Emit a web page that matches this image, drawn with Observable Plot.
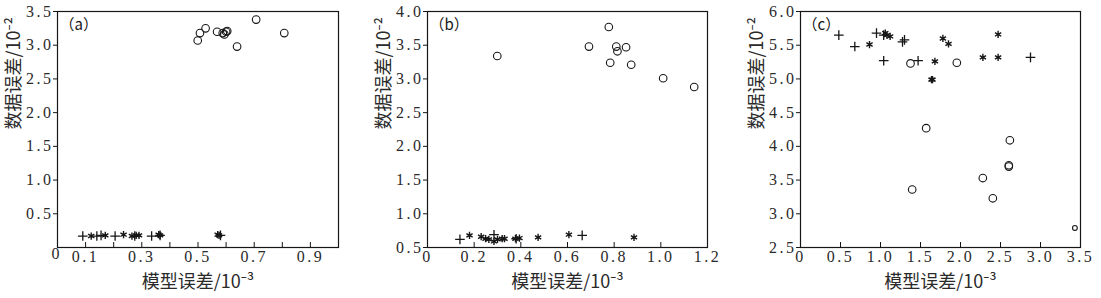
<!DOCTYPE html>
<html>
<head>
<meta charset="utf-8">
<script src="https://cdn.jsdelivr.net/npm/d3@7"></script>
<script src="https://cdn.jsdelivr.net/npm/@observablehq/plot@0.6"></script>
<style>
  html, body { margin: 0; padding: 0; background: #fff; }
  #wrap { position: relative; width: 1101px; height: 298px; overflow: hidden; }
  .panel { position: absolute; top: 0; }
  .panel svg { display: block; }
  .panel svg text.num {
    font-family: 'Liberation Serif', 'DejaVu Serif', serif !important;
    font-size: 16px !important;
    letter-spacing: 2.5px !important;
    fill: #2a2a2a !important;
  }
</style>
</head>
<body>
<div id="wrap"></div>
<script>
// ---------- data ----------
const xLabel = "模型误差/10⁻³";
const yLabel = "数据误差/10⁻²";
const panelTags = ["（a）", "（b）", "（c）"];

// panel (a)
const aCircleX = [0.499, 0.507, 0.527, 0.568, 0.588, 0.594, 0.600, 0.604, 0.639, 0.707, 0.807];
const aCircleY = [3.07, 3.18, 3.25, 3.20, 3.18, 3.16, 3.20, 3.21, 2.98, 3.38, 3.18];
const aPlusX = [0.09, 0.14, 0.155, 0.205, 0.275, 0.335, 0.365, 0.58];
const aPlusY = [0.17, 0.17, 0.18, 0.17, 0.17, 0.17, 0.18, 0.18];
const aStarX = [0.12, 0.17, 0.235, 0.265, 0.28, 0.29, 0.36, 0.365, 0.57, 0.575];
const aStarY = [0.17, 0.18, 0.19, 0.17, 0.18, 0.18, 0.19, 0.18, 0.19, 0.18];
const aXTicks = [0.1, 0.2, 0.3, 0.4, 0.5, 0.6, 0.7, 0.8, 0.9];
const aXTickLabels = [0.1, 0.3, 0.5, 0.7, 0.9];
const aYTicks = [0.5, 1.0, 1.5, 2.0, 2.5, 3.0, 3.5];

// panel (b)
const bCircleX = [0.299, 0.692, 0.777, 0.783, 0.809, 0.814, 0.851, 0.873, 1.01, 1.143];
const bCircleY = [3.34, 3.48, 3.77, 3.24, 3.48, 3.41, 3.47, 3.21, 3.01, 2.88];
const bPlusX = [0.139, 0.285, 0.38, 0.663];
const bPlusY = [0.62, 0.69, 0.63, 0.68];
const bStarX = [0.18, 0.23, 0.249, 0.263, 0.285, 0.30, 0.32, 0.33, 0.377, 0.394, 0.474, 0.606, 0.885];
const bStarY = [0.68, 0.66, 0.63, 0.62, 0.59, 0.62, 0.63, 0.63, 0.63, 0.64, 0.65, 0.69, 0.65];
const bXTicks = [0.2, 0.4, 0.6, 0.8, 1.0];
const bXTickLabels = [0, 0.2, 0.4, 0.6, 0.8, 1.0, 1.2];
const bYTicks = [0.5, 1.0, 1.5, 2.0, 2.5, 3.0, 3.5, 4.0];

// panel (c)
const cCircleX = [1.375, 1.396, 1.571, 1.954, 2.279, 2.404, 2.604, 2.604, 2.617];
const cCircleY = [5.23, 3.36, 4.27, 5.24, 3.53, 3.23, 3.72, 3.70, 4.09];
const cSmallCircleX = [3.43];
const cSmallCircleY = [2.79];
const cPlusX = [0.479, 0.679, 0.95, 1.04, 1.04, 1.275, 1.30, 1.47, 2.875];
const cPlusY = [5.65, 5.48, 5.68, 5.65, 5.27, 5.55, 5.58, 5.27, 5.32];
const cStarX = [0.8625, 1.06, 1.08, 1.12, 1.6375, 1.65, 1.68, 1.78, 1.85, 2.28, 2.47, 2.47];
const cStarY = [5.51, 5.68, 5.65, 5.63, 4.99, 4.99, 5.26, 5.60, 5.52, 5.32, 5.66, 5.32];
const cXTicks = [0.5, 1.0, 1.5, 2.0, 2.5, 3.0];
const cXTickLabels = [0, 0.5, 1.0, 1.5, 2.0, 2.5, 3.0, 3.5];
const cYTicks = [2.5, 3.0, 3.5, 4.0, 4.5, 5.0, 5.5, 6.0];

// ---------- helpers ----------
const zip = (xs, ys) => xs.map((x, i) => ({x, y: ys[i]}));
const fmt = d => d === 0 ? "0" : d.toFixed(1);
const INK = "#161616";
const numFont = "'Liberation Serif', 'DejaVu Serif', serif";
const cjkFont = "'Noto Sans CJK SC', 'Noto Sans', sans-serif";

function panel(cfg) {
  const {left, width, marginLeft, marginRight, xDomain, yDomain, xTicks, xTickLabels, yTicks,
         circles, smallCircles, pluses, stars, tag, cornerZero} = cfg;
  const marks = [
    Plot.frame({stroke: INK, strokeWidth: 1.2}),
    // inward x ticks
    Plot.tickX(xTicks, {x: d => d, stroke: INK, strokeWidth: 1, insetTop: 231}),
    Plot.axisX(xTickLabels, {tickSize: 0, tickPadding: 3, tickFormat: fmt, label: null, fill: INK}),
    Plot.axisY(yTicks, {tickSize: 4, tickPadding: 0, tickFormat: fmt, label: null, fill: INK, stroke: INK}),
    Plot.dot(circles, {x: "x", y: "y", symbol: "circle", r: 3.8, stroke: INK, strokeWidth: 1.1, fill: "none"}),
    Plot.dot(pluses, {x: "x", y: "y", symbol: "plus", r: 3.2, stroke: INK, strokeWidth: 1.3}),
    Plot.dot(stars, {x: "x", y: "y", symbol: "asterisk", r: 3.4, stroke: INK, strokeWidth: 1.4}),
    Plot.text([tag], {frameAnchor: "top-left", dx: 2, dy: 8, fontSize: 15, fontFamily: cjkFont, fill: INK, textAnchor: "start", lineAnchor: "top"}),
    Plot.text([xLabel], {frameAnchor: "bottom", dy: 35, lineAnchor: "middle", fontSize: 18, fontFamily: cjkFont, fill: "#2a2a2a"}),
    Plot.text([yLabel], {frameAnchor: "left", rotate: -90, dx: -43, lineAnchor: "middle", fontSize: 18, fontFamily: cjkFont, fill: "#2a2a2a"})
  ];
  if (smallCircles) marks.push(Plot.dot(smallCircles, {x: "x", y: "y", symbol: "circle", r: 2.4, stroke: INK, strokeWidth: 1.1, fill: "none"}));
  if (cornerZero) marks.push(Plot.text(["0"], {frameAnchor: "bottom-left", dx: -6, dy: 6, lineAnchor: "middle", fontSize: 16, fill: INK}));
  const chart = Plot.plot({
    width, height: 298,
    marginLeft, marginRight, marginTop: 11, marginBottom: 51,
    x: {domain: xDomain, axis: null},
    y: {domain: yDomain, axis: null},
    style: {background: "#fff", overflow: "visible"},
    marks
  });
  // serif, spaced numerals for all numeric labels
  chart.querySelectorAll("text").forEach(t => {
    if (/^[0-9.]+$/.test(t.textContent.trim())) {
      t.classList.add("num");
      t.setAttribute("font-family", numFont);
      t.setAttribute("font-size", "16");
    }
  });
  const div = document.createElement("div");
  div.className = "panel";
  div.style.left = left + "px";
  div.appendChild(chart);
  document.getElementById("wrap").appendChild(div);
}

panel({left: 0, width: 370, marginLeft: 57, marginRight: 32, xDomain: [0, 1.0], yDomain: [0, 3.5],
  xTicks: aXTicks, xTickLabels: aXTickLabels, yTicks: aYTicks,
  circles: zip(aCircleX, aCircleY), pluses: zip(aPlusX, aPlusY), stars: zip(aStarX, aStarY),
  tag: panelTags[0], cornerZero: true});

panel({left: 370, width: 360, marginLeft: 57, marginRight: 23, xDomain: [0, 1.2], yDomain: [0.5, 4.0],
  xTicks: bXTicks, xTickLabels: bXTickLabels, yTicks: bYTicks,
  circles: zip(bCircleX, bCircleY), pluses: zip(bPlusX, bPlusY), stars: zip(bStarX, bStarY),
  tag: panelTags[1]});

panel({left: 730, width: 371, marginLeft: 70, marginRight: 21, xDomain: [0, 3.5], yDomain: [2.5, 6.0],
  xTicks: cXTicks, xTickLabels: cXTickLabels, yTicks: cYTicks,
  circles: zip(cCircleX, cCircleY), smallCircles: zip(cSmallCircleX, cSmallCircleY),
  pluses: zip(cPlusX, cPlusY), stars: zip(cStarX, cStarY),
  tag: panelTags[2]});
</script>
</body>
</html>
